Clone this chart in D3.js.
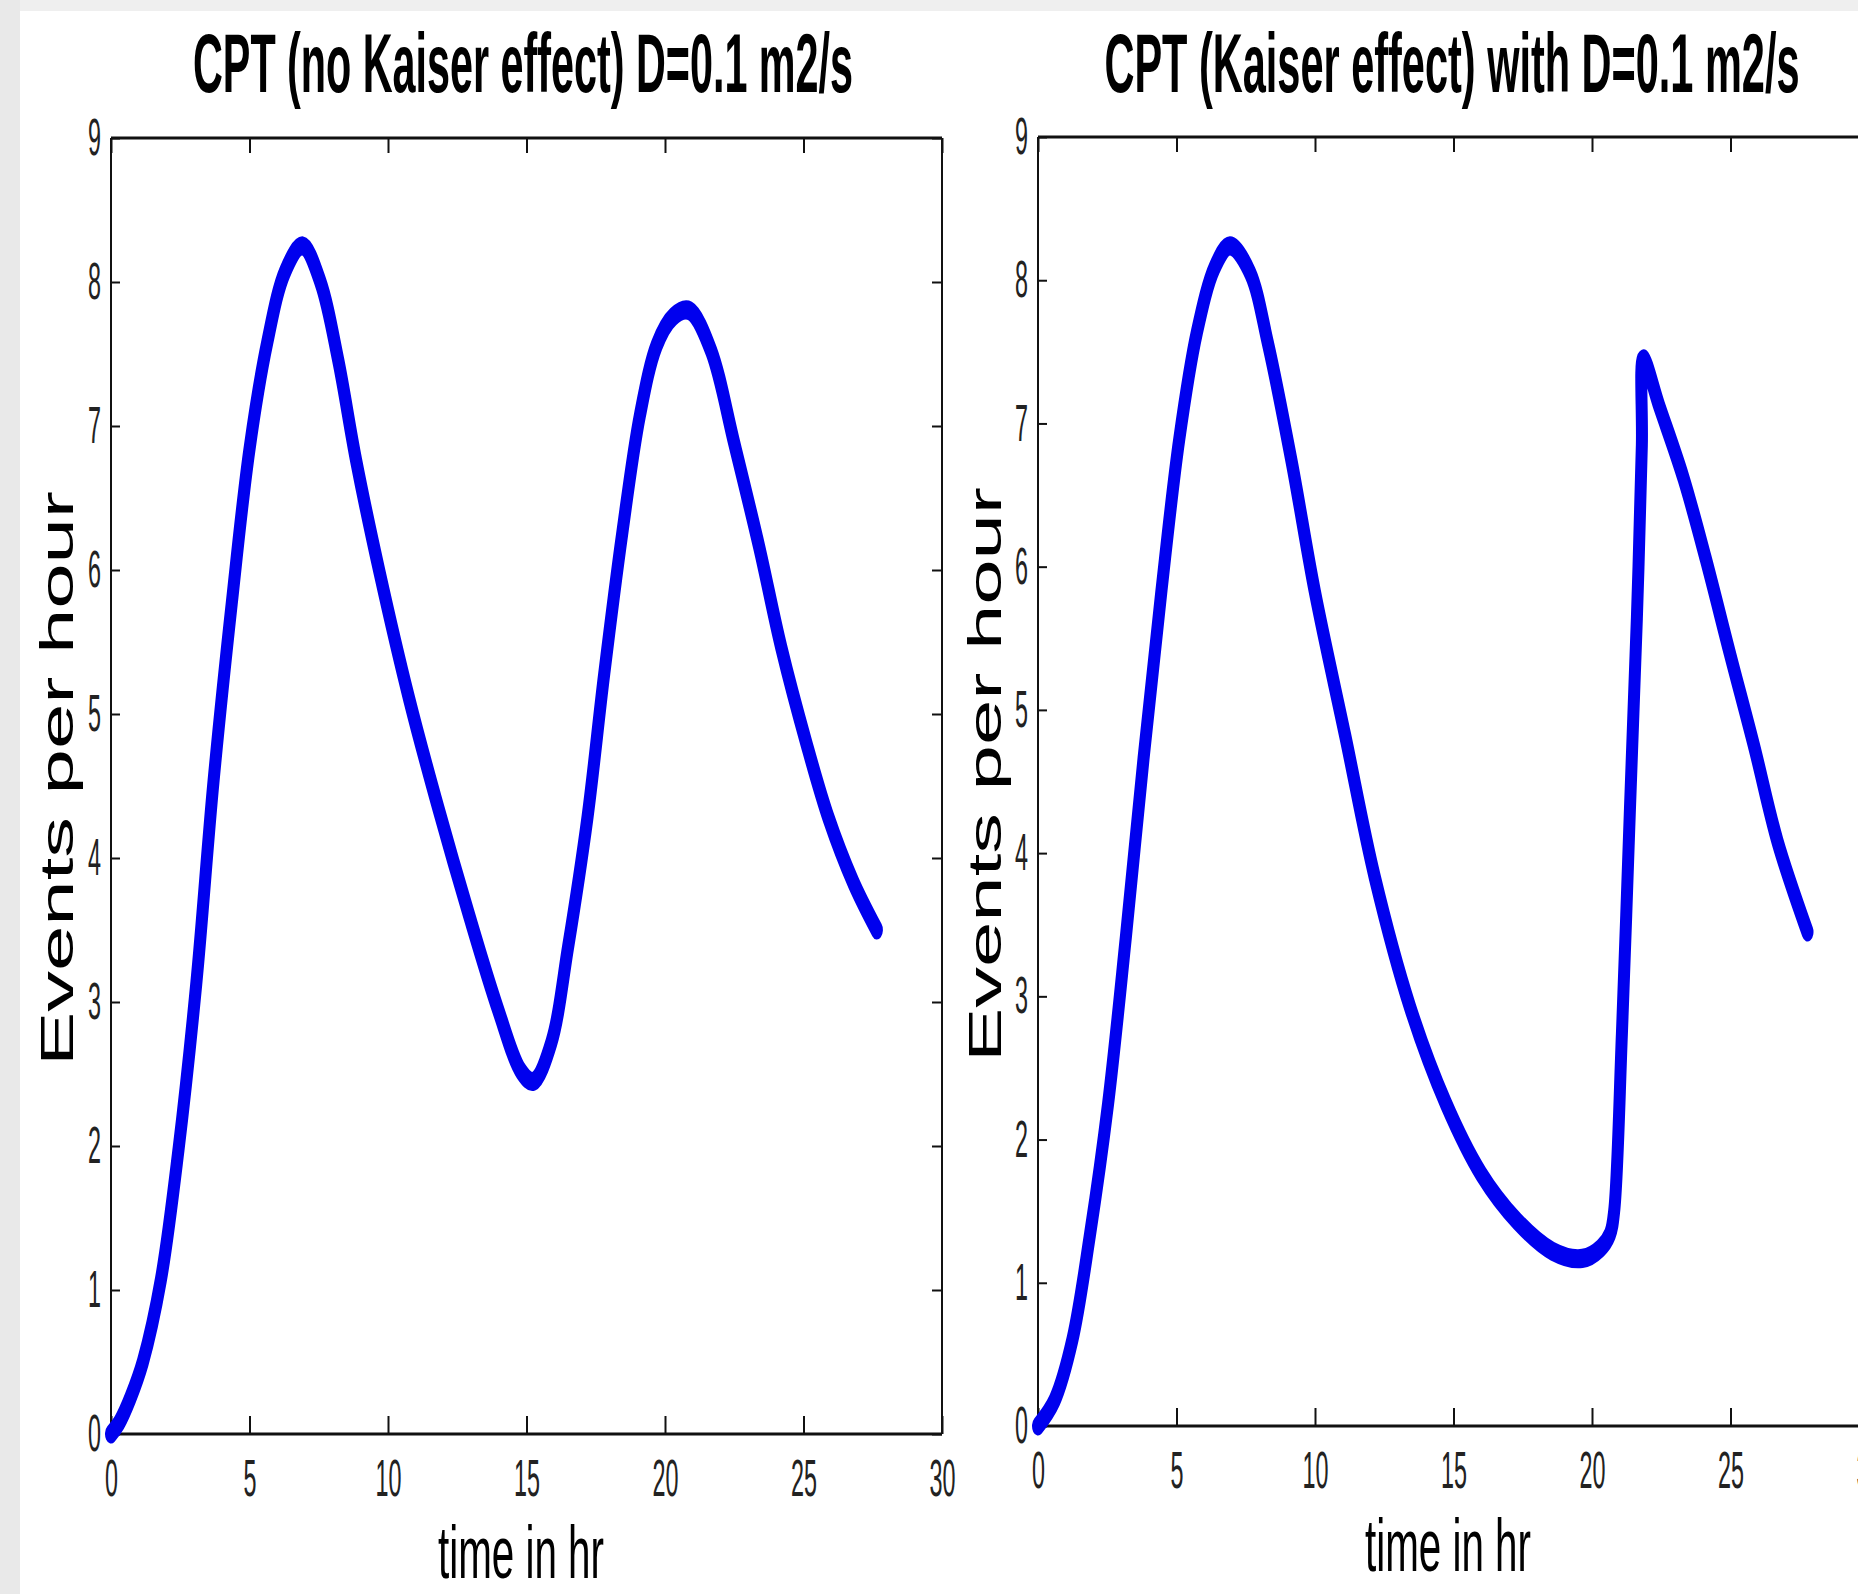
<!DOCTYPE html>
<html>
<head>
<meta charset="utf-8">
<script src="https://cdn.jsdelivr.net/npm/d3@7"></script>
<style>
  body { margin: 0; background: #fff; }
  svg text { font-family: "Liberation Sans", Arial, sans-serif; }
</style>
</head>
<body>
<div id="chart"></div>
<script>
// size of the whole picture
var W = 1858;
var H = 1594;

// tick values of both panels
var xTicks = [0, 5, 10, 15, 20, 25, 30];
var yTicks = [0, 1, 2, 3, 4, 5, 6, 7, 8, 9];

// left panel: no Kaiser effect
var noKaiserTime = [0, 0.3, 0.7, 1.15, 1.8, 2.44, 3.08, 3.7, 4.36, 5.0, 5.64, 6.28, 6.92, 7.56, 8.2, 8.85,
  9.7, 10.77, 11.84, 12.9, 13.97, 14.8, 15.26, 15.9, 16.5, 17.2, 17.8, 18.46, 19.1, 19.7, 20.3, 20.9,
  21.67, 22.5, 23.4, 24.2, 25.1, 25.9, 26.8, 27.65];
var noKaiserRate = [0, 0.08, 0.25, 0.5, 1.07, 1.98, 3.13, 4.53, 5.77, 6.84, 7.58, 8.07, 8.25, 8.0, 7.46, 6.76,
  5.98, 5.1, 4.33, 3.62, 2.95, 2.52, 2.45, 2.72, 3.38, 4.28, 5.27, 6.26, 7.08, 7.56, 7.76, 7.8,
  7.52, 6.88, 6.16, 5.46, 4.8, 4.28, 3.83, 3.5];

// right panel: with Kaiser effect
var kaiserTime = [0, 0.6, 1.24, 1.88, 2.53, 3.17, 3.81, 4.45, 5.1, 5.74, 6.38, 6.93, 7.66, 8.3, 9.16, 10.0,
  11.09, 12.16, 13.44, 14.73, 16.0, 17.3, 18.58, 19.65, 20.3, 20.65, 20.8, 21.08, 21.37, 21.62, 21.8, 21.85,
  22.43, 23.3, 24.1, 24.97, 25.86, 26.7, 27.78];
var kaiserRate = [0, 0.18, 0.6, 1.34, 2.25, 3.41, 4.66, 5.82, 6.89, 7.64, 8.09, 8.24, 8.05, 7.56, 6.73, 5.82,
  4.82, 3.83, 2.92, 2.25, 1.76, 1.43, 1.22, 1.17, 1.24, 1.34, 1.5, 2.74, 4.31, 5.64, 6.85, 7.45,
  7.12, 6.62, 6.06, 5.4, 4.74, 4.08, 3.45];

var titles = ["CPT (no Kaiser effect) D=0.1 m2/s", "CPT (Kaiser effect) with D=0.1 m2/s"];
var xLabel = "time in hr";
var yLabel = "Events per hour";

var svg = d3.select("#chart").append("svg")
  .attr("width", W)
  .attr("height", H);

// white page with grey strips on top and left
svg.append("rect").attr("x", 0).attr("y", 0).attr("width", W).attr("height", H).attr("fill", "#fff");
svg.append("rect").attr("x", 0).attr("y", 0).attr("width", W).attr("height", 11).attr("fill", "#efefef");
svg.append("rect").attr("x", 0).attr("y", 0).attr("width", 20).attr("height", H).attr("fill", "#e9e9e9");

// the picture is stretched vertically, so the line is thicker up-down
var stretch = 1.6;

function drawPanel(p, times, rates, title) {
  var x = d3.scaleLinear().domain([0, 30]).range([p.left, p.right]);
  var y = d3.scaleLinear().domain([0, 9]).range([p.bottom, p.top]);
  var data = times.map(function(t, i) { return { t: t, v: rates[i] }; });

  // bottom axis with ticks pointing in
  var gx = svg.append("g")
    .attr("transform", "translate(0," + p.bottom + ")")
    .call(d3.axisBottom(x).tickValues(xTicks).tickSize(-18).tickPadding(25).tickFormat(d3.format("d")));
  gx.attr("font-size", 52).attr("font-family", null);
  gx.select(".domain").remove();
  gx.selectAll("line").attr("stroke", "#111").attr("stroke-width", 2);
  gx.selectAll("text")
    .attr("fill", "#222")
    .attr("textLength", function(d) { return String(d).length * 13; })
    .attr("lengthAdjust", "spacingAndGlyphs");

  // top axis, ticks only
  var gt = svg.append("g")
    .attr("transform", "translate(0," + p.top + ")")
    .call(d3.axisTop(x).tickValues(xTicks).tickSize(-15).tickFormat(""));
  gt.select(".domain").remove();
  gt.selectAll("line").attr("stroke", "#111").attr("stroke-width", 2);

  // left axis
  var gy = svg.append("g")
    .attr("transform", "translate(" + p.left + ",0)")
    .call(d3.axisLeft(y).tickValues(yTicks).tickSize(-9).tickPadding(10).tickFormat(d3.format("d")));
  gy.attr("font-size", 52).attr("font-family", null);
  gy.select(".domain").remove();
  gy.selectAll("line").attr("stroke", "#111").attr("stroke-width", 2);
  gy.selectAll("text")
    .attr("fill", "#222")
    .attr("textLength", 13)
    .attr("lengthAdjust", "spacingAndGlyphs");

  // right axis, ticks only
  var gr = svg.append("g")
    .attr("transform", "translate(" + p.right + ",0)")
    .call(d3.axisRight(y).tickValues(yTicks).tickSize(-10).tickFormat(""));
  gr.select(".domain").remove();
  gr.selectAll("line").attr("stroke", "#111").attr("stroke-width", 2);

  // box
  svg.append("line").attr("x1", p.left).attr("x2", p.right).attr("y1", p.top).attr("y2", p.top)
    .attr("stroke", "#111").attr("stroke-width", 3);
  svg.append("line").attr("x1", p.left).attr("x2", p.right).attr("y1", p.bottom).attr("y2", p.bottom)
    .attr("stroke", "#111").attr("stroke-width", 3);
  svg.append("line").attr("x1", p.left).attr("x2", p.left).attr("y1", p.top).attr("y2", p.bottom)
    .attr("stroke", "#111").attr("stroke-width", 2);
  svg.append("line").attr("x1", p.right).attr("x2", p.right).attr("y1", p.top).attr("y2", p.bottom)
    .attr("stroke", "#111").attr("stroke-width", 2);

  // the curve, drawn in a vertically stretched group
  var ys = d3.scaleLinear().domain([0, 9]).range([(p.bottom - p.top) / stretch, 0]);
  var line = d3.line()
    .x(function(d) { return x(d.t); })
    .y(function(d) { return ys(d.v); })
    .curve(d3.curveCatmullRom.alpha(0.5));
  svg.append("g")
    .attr("transform", "translate(0," + p.top + ") scale(1," + stretch + ")")
    .append("path")
    .datum(data)
    .attr("fill", "none")
    .attr("stroke", "#0000ee")
    .attr("stroke-width", 12)
    .attr("stroke-linejoin", "round")
    .attr("stroke-linecap", "round")
    .attr("d", line);

  // title
  svg.append("text")
    .attr("x", p.titleX - p.titleLen / 2)
    .attr("y", 92)
    .attr("font-size", 84)
    .attr("font-weight", "bold")
    .attr("fill", "#000")
    .attr("textLength", p.titleLen)
    .attr("lengthAdjust", "spacingAndGlyphs")
    .text(title);

  // x label
  svg.append("text")
    .attr("x", p.xlabX - 83)
    .attr("y", p.xlabY)
    .attr("font-size", 74)
    .attr("fill", "#000")
    .attr("textLength", 166)
    .attr("lengthAdjust", "spacingAndGlyphs")
    .text(xLabel);

  // y label
  svg.append("text")
    .attr("transform", "translate(" + p.ylabX + "," + p.ylabY + ") rotate(-90)")
    .attr("x", -287)
    .attr("y", 17)
    .attr("font-size", 47)
    .attr("fill", "#000")
    .attr("textLength", 575)
    .attr("lengthAdjust", "spacingAndGlyphs")
    .text(yLabel);
}

drawPanel({ left: 111, right: 942, top: 138, bottom: 1434, titleX: 523, titleLen: 660,
  xlabX: 521, xlabY: 1578, ylabX: 56, ylabY: 779 }, noKaiserTime, noKaiserRate, titles[0]);
drawPanel({ left: 1038, right: 1869, top: 137, bottom: 1426, titleX: 1452, titleLen: 695,
  xlabX: 1448, xlabY: 1571, ylabX: 984, ylabY: 775 }, kaiserTime, kaiserRate, titles[1]);
</script>
</body>
</html>
